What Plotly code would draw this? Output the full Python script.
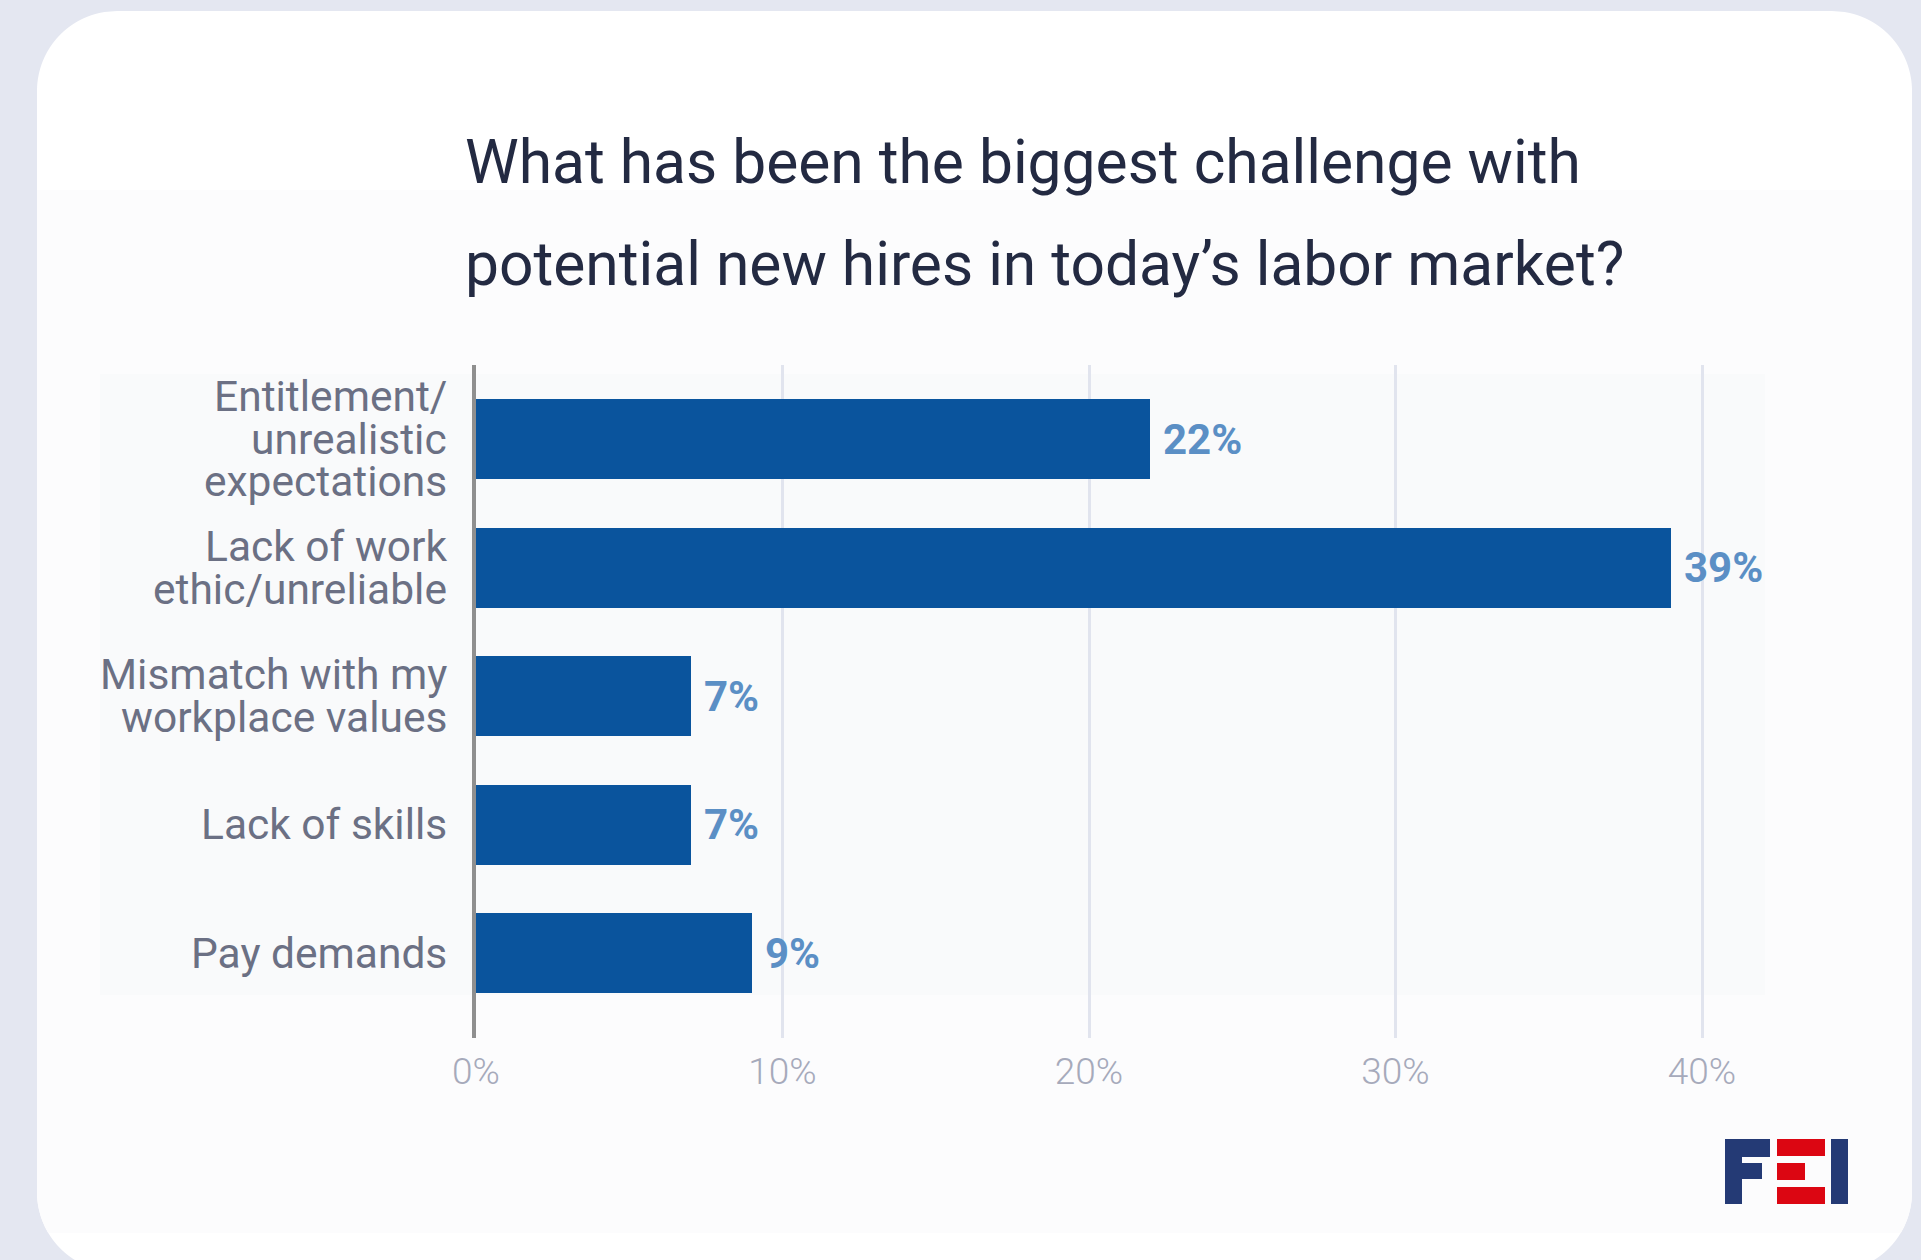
import math
import plotly.graph_objects as go

# Survey responses (share of respondents, %)
categories = [
    "Entitlement/<br>unrealistic<br>expectations",
    "Lack of work<br>ethic/unreliable",
    "Mismatch with my<br>workplace values",
    "Lack of skills",
    "Pay demands",
]
shares = [22, 39, 7, 7, 9]
x_ticks = [0, 10, 20, 30, 40]
x_tick_labels = ["0%", "10%", "20%", "30%", "40%"]
title_lines = [
    "What has been the biggest challenge with",
    "potential new hires in today\u2019s labor market?",
]

W, H = 1921, 1260
BAR = "#0a549d"
VALUE_COLOR = "#5b8fc5"
LABEL_COLOR = "#6b7084"
TITLE_COLOR = "#232a42"
FONT = "Roboto"


def px(x):
    return x / W


def py(y):
    return 1 - y / H


def card_edges(y, x0=37, y0=11, x1=1912, y1=1272, r=80):
    """Left/right x of the rounded card at pixel row y."""
    dx = 0.0
    if y < y0 + r:
        d = y0 + r - y
        dx = r - math.sqrt(max(r * r - d * d, 0))
    elif y > y1 - r:
        d = y - (y1 - r)
        dx = r - math.sqrt(max(r * r - d * d, 0))
    return x0 + dx, x1 - dx


def band_path(ya, yb, step=1.0):
    """Closed SVG path (paper coords) of the card between rows ya and yb."""
    ys = []
    y = ya
    while y < yb:
        ys.append(y)
        y += step
    ys.append(yb)
    left = [(card_edges(v)[0], v) for v in ys]
    right = [(card_edges(v)[1], v) for v in reversed(ys)]
    pts = left + right
    return "M " + " L ".join(f"{px(a):.6f},{py(b):.6f}" for a, b in pts) + " Z"


shapes = [
    # white card
    dict(type="path", path=band_path(11, 1260), xref="paper", yref="paper",
         fillcolor="#ffffff", line=dict(width=0), layer="below"),
    # faint tinted band behind the chart
    dict(type="path", path=band_path(190, 1233), xref="paper", yref="paper",
         fillcolor="#fcfcfd", line=dict(width=0), layer="below"),
    # plot backdrop
    dict(type="rect", xref="paper", yref="paper", x0=px(100), x1=px(1765),
         y0=py(995), y1=py(374), fillcolor="#f9fafb", line=dict(width=0),
         layer="below"),
]

# FEI logo
navy, red = "#243a75", "#dc0612"
logo_blocks = [
    (1725, 1139, 1742, 1204, navy),
    (1742, 1139, 1770, 1157, navy),
    (1742, 1163, 1762, 1179, navy),
    (1777, 1139, 1825, 1156, red),
    (1777, 1163, 1805, 1180, red),
    (1777, 1187, 1825, 1204, red),
    (1831, 1139, 1848, 1204, navy),
]
for xa, ya, xb, yb, c in logo_blocks:
    shapes.append(dict(type="rect", xref="paper", yref="paper",
                       x0=px(xa), x1=px(xb), y0=py(yb), y1=py(ya),
                       fillcolor=c, line=dict(width=0), layer="above"))

fig = go.Figure()
fig.add_trace(go.Bar(
    x=shares,
    y=categories,
    orientation="h",
    marker=dict(color=BAR, line=dict(width=0)),
    width=0.623,
    hoverinfo="skip",
))

annotations = []
# title
for i, line in enumerate(title_lines):
    annotations.append(dict(
        text=line, xref="paper", yref="paper", x=px(463), y=py(163 + i * 101),
        xanchor="left", yanchor="middle", showarrow=False,
        font=dict(family=FONT, size=60.5, color=TITLE_COLOR),
    ))

# category labels, one annotation per line for tight leading
LINE_GAP = 42.5
for cat in categories:
    lines = cat.split("<br>")
    n = len(lines)
    for j, ln in enumerate(lines):
        annotations.append(dict(
            text=ln, xref="paper", yref="y", x=px(476), y=cat,
            xanchor="right", yanchor="middle", xshift=-27,
            yshift=((n - 1) / 2 - j) * LINE_GAP, showarrow=False, align="right",
            font=dict(family=FONT, size=42.5, color=LABEL_COLOR),
        ))

# value labels
for cat, v in zip(categories, shares):
    annotations.append(dict(
        text=f"{v}%", xref="x", yref="y", x=v, y=cat,
        xanchor="left", yanchor="middle", xshift=11, showarrow=False,
        font=dict(family=FONT, size=42, color=VALUE_COLOR, weight=700),
    ))

fig.update_layout(
    width=W, height=H,
    autosize=False,
    margin=dict(l=0, r=0, t=0, b=0, pad=0, autoexpand=False),
    paper_bgcolor="#e4e7f1",
    plot_bgcolor="rgba(0,0,0,0)",
    showlegend=False,
    shapes=shapes,
    annotations=annotations,
    bargap=0,
    xaxis=dict(
        domain=[px(476), px(1765)],
        range=[0, (1765 - 476) / 30.65],
        tickvals=x_ticks, ticktext=x_tick_labels,
        showgrid=True, gridcolor="#e1e4ee", gridwidth=3,
        zeroline=False, showline=False, ticks="",
        ticklabelstandoff=8, automargin=False,
        tickfont=dict(family=FONT, size=37, color="#a6aabb", weight=300),
        fixedrange=True,
    ),
    yaxis=dict(
        domain=[py(1038), py(365)],
        categoryorder="array", categoryarray=categories,
        range=[4.662, -0.58],
        showticklabels=False, ticks="", automargin=False,
        showgrid=False, zeroline=False,
        showline=True, linecolor="#8f8f8f", linewidth=4,
        fixedrange=True,
    ),
)

fig.write_html("out.html")
